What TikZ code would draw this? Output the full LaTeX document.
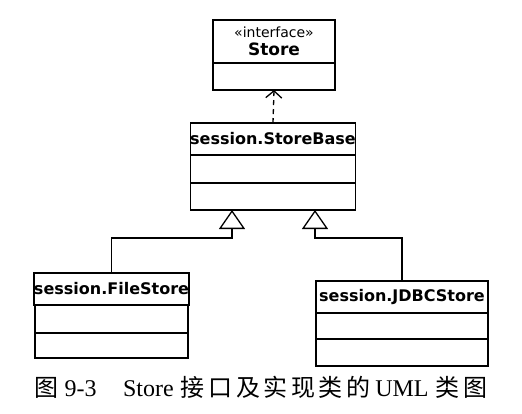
\documentclass[tikz,border=0pt]{standalone}
\usepackage{fontspec}
\setmainfont{Liberation Serif}
\setsansfont{DejaVu Sans}
\newfontfamily\cjk[LetterSpace=15]{Noto Sans CJK SC}
\usetikzlibrary{positioning,arrows.meta}
\begin{document}
\begin{tikzpicture}[x=1pt,y=-1pt,
    part/.style={draw,line width=1.3pt,inner sep=0pt,outer sep=0pt,anchor=north},
    title/.style={part,minimum height=32pt,font=\sffamily\bfseries\fontsize{16}{18}\selectfont},
    realize/.style={dash pattern=on 5pt off 4pt,line width=1.3pt,-{Straight Barb[length=7pt,width=16pt]}},
    inherit/.style={line width=1.3pt,-{Triangle[open,length=19pt,width=26pt]}}]
  \useasboundingbox (0,0) rectangle (522,413);
  % interface
  \node[part,minimum width=122pt,minimum height=43pt,align=center] (storename) at (274,20)
    {{\sffamily\fontsize{14}{15}\selectfont «interface»}\\[4pt]{\sffamily\bfseries\fontsize{17}{18}\selectfont Store}};
  \node[part,minimum width=122pt,minimum height=27pt,below=0pt of storename] (storeattr) {};
  % base class
  \node[title,minimum width=165pt] (basename) at (273,123) {session.StoreBase};
  \node[part,minimum width=165pt,minimum height=28pt,below=0pt of basename] (baseattr) {};
  \node[part,minimum width=165pt,minimum height=27pt,below=0pt of baseattr] (baseops) {};
  % subclasses
  \node[title,minimum width=153pt] (filename) at (111.5,273) {session.FileStore};
  \node[part,minimum width=153pt,minimum height=28pt,below=0pt of filename] (fileattr) {};
  \node[part,minimum width=153pt,minimum height=25pt,below=0pt of fileattr] (fileops) {};
  \node[title,minimum width=172pt] (jdbcname) at (402,281) {session.JDBCStore};
  \node[part,minimum width=172pt,minimum height=26pt,below=0pt of jdbcname] (jdbcattr) {};
  \node[part,minimum width=172pt,minimum height=27pt,below=0pt of jdbcattr] (jdbcops) {};
  % connectors
  \coordinate (tipL) at ([xshift=-41pt]baseops.south);
  \coordinate (tipR) at ([xshift=42pt]baseops.south);
  \coordinate (elbowL) at ([yshift=-28pt]tipL);
  \coordinate (elbowR) at ([yshift=-28pt]tipR);
  \draw[realize] (basename.north) -- (storeattr.south);
  \draw[inherit] (filename.north) |- (elbowL) -- (tipL);
  \draw[inherit] (jdbcname.north) |- (elbowR) -- (tipR);
  % caption
  \node[font=\fontsize{24}{26}\selectfont] (caption) at (261,387)
    {{\cjk 图}\ 9-3\hspace{1.1em}Store\hspace{0.3em}{\cjk 接口及实现类的}\hspace{0.2em}UML\hspace{0.3em}{\cjk 类图}};
\end{tikzpicture}
\end{document}
